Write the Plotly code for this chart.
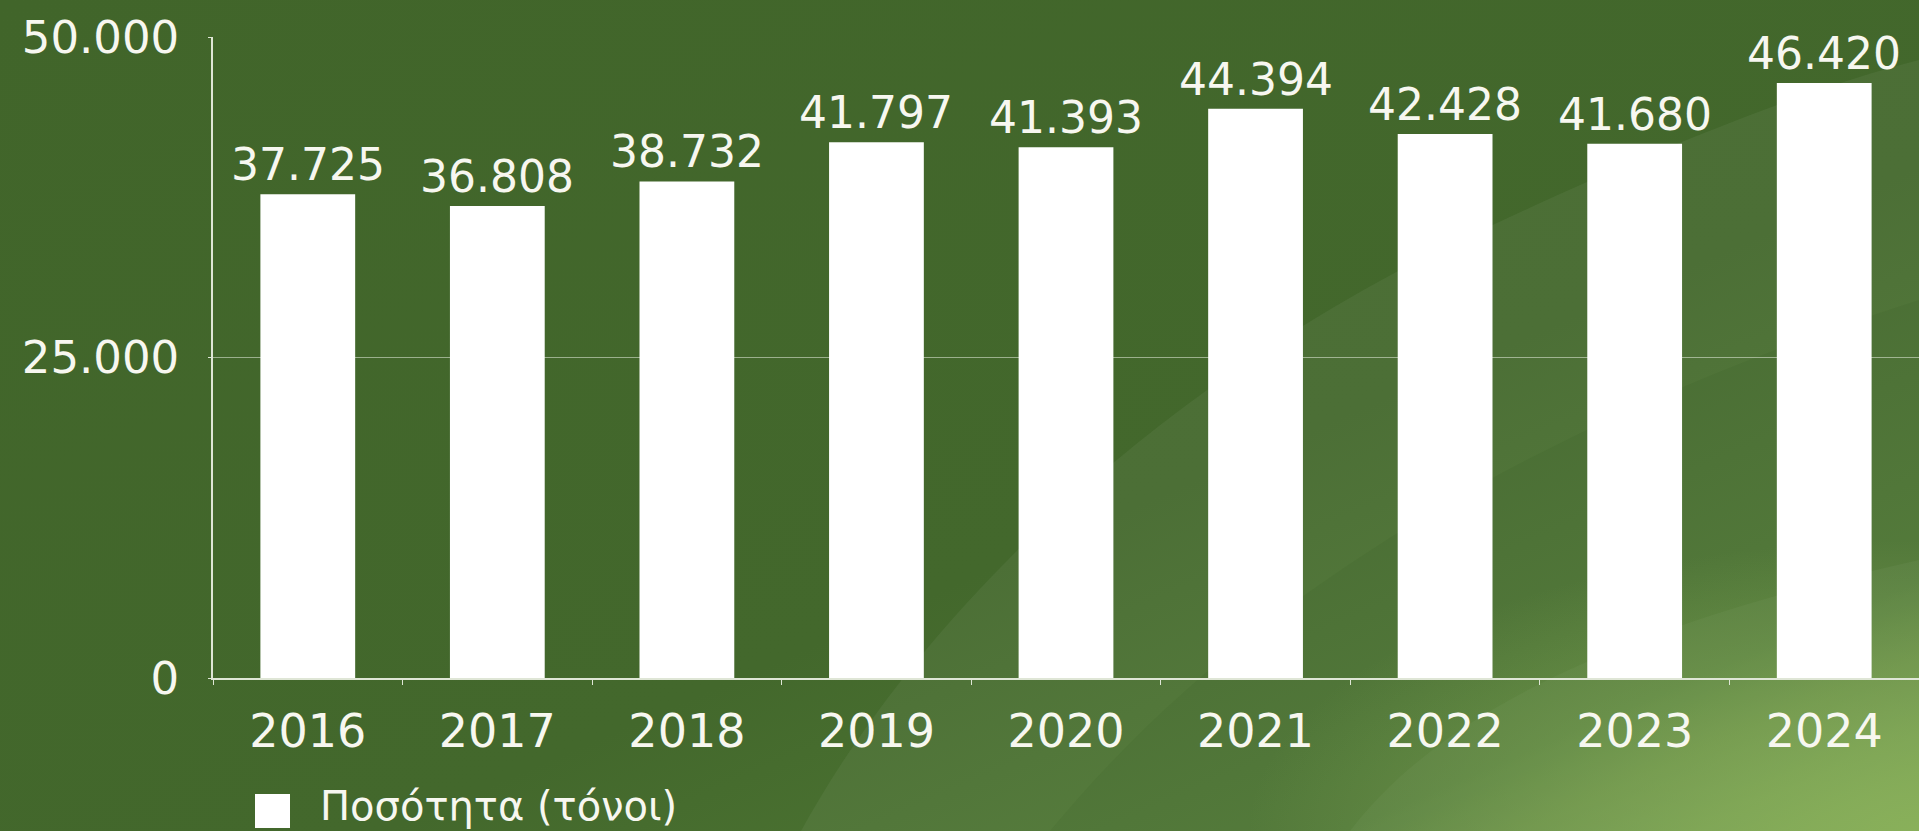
import base64
import plotly.graph_objects as go

years = ["2016", "2017", "2018", "2019", "2020", "2021", "2022", "2023", "2024"]
quantity = [37725, 36808, 38732, 41797, 41393, 44394, 42428, 41680, 46420]
series_name = "Ποσότητα (τόνοι)"
y_ticks = [0, 25000, 50000]

W, H = 1919, 831
ML, MR, MT, MB = 213, 0, 37, 153
PW, PH = W - ML - MR, H - MT - MB

FONT = "DejaVu Sans"
TXT = "#f7f7f0"

svg = f'''<svg xmlns="http://www.w3.org/2000/svg" width="{W}" height="{H}" viewBox="0 0 {W} {H}" preserveAspectRatio="none">
<defs>
<linearGradient id="g" x1="0" y1="0" x2="1" y2="1">
<stop offset="0" stop-color="#41652a"/>
<stop offset="0.6" stop-color="#43682c"/>
<stop offset="0.85" stop-color="#4f7834"/>
<stop offset="1" stop-color="#7ea552"/>
</linearGradient>
<radialGradient id="r" cx="1" cy="1" r="0.35">
<stop offset="0" stop-color="#8ab25a" stop-opacity="0.85"/>
<stop offset="1" stop-color="#8ab25a" stop-opacity="0"/>
</radialGradient>
</defs>
<rect width="{W}" height="{H}" fill="url(#g)"/>
<path d="M801,831 C900,650 1100,430 1400,270 C1600,170 1800,90 1919,60 L1919,831 Z" fill="#ffffff" fill-opacity="0.05"/>
<path d="M1050,831 C1200,650 1450,450 1919,300 L1919,831 Z" fill="#2c5015" fill-opacity="0.08"/>
<path d="M1350,831 C1450,700 1650,620 1919,560 L1919,831 Z" fill="#ffffff" fill-opacity="0.04"/>
<rect width="{W}" height="{H}" fill="url(#r)"/>
</svg>'''
svg_uri = "data:image/svg+xml;base64," + base64.b64encode(svg.encode()).decode()

fig = go.Figure()
fig.add_trace(go.Bar(
    x=years, y=quantity, name=series_name,
    marker=dict(color="#ffffff", line=dict(width=0)),
    width=0.5, showlegend=False, hoverinfo="skip",
))

for i, v in enumerate(quantity):
    fig.add_annotation(
        x=i, y=v, xref="x", yref="y",
        text=f"{v:,}".replace(",", "."),
        showarrow=False, yanchor="bottom", yshift=2,
        font=dict(family=FONT, size=44, color=TXT),
    )

# legend drawn as a square + label
lx0 = (255 - ML) / PW
lx1 = (290 - ML) / PW
ly0 = -(828 - (H - MB)) / PH
ly1 = -(794 - (H - MB)) / PH
fig.add_shape(type="rect", xref="paper", yref="paper",
              x0=lx0, x1=lx1, y0=ly0, y1=ly1,
              fillcolor="#ffffff", line=dict(width=0))
fig.add_annotation(
    x=(318 - ML) / PW, y=(ly0 + ly1) / 2, xref="paper", yref="paper",
    text=series_name, showarrow=False, xanchor="left", yanchor="middle",
    yshift=5,
    font=dict(family=FONT, size=40, color=TXT),
)

fig.add_layout_image(dict(
    source=svg_uri, xref="paper", yref="paper",
    x=-ML / PW, y=1 + MT / PH, sizex=W / PW, sizey=H / PH,
    xanchor="left", yanchor="top", sizing="stretch", layer="below",
))

fig.update_layout(
    width=W, height=H,
    margin=dict(l=ML, r=MR, t=MT, b=MB, pad=0),
    paper_bgcolor="#43682c", plot_bgcolor="rgba(0,0,0,0)",
    separators=",.",
    font=dict(family=FONT, color=TXT),
)
fig.update_xaxes(
    type="category", range=[-0.5, len(years) - 0.5],
    showline=True, linecolor="#dfe6d6", linewidth=1.5,
    ticks="outside", tickson="boundaries", ticklen=5, tickcolor="#dfe6d6",
    tickfont=dict(family=FONT, size=46, color=TXT), tickangle=0,
    ticklabelstandoff=12, showgrid=False,
)
fig.update_yaxes(
    range=[0, 50000], tickvals=y_ticks, tickformat=",d",
    showline=True, linecolor="#dfe6d6", linewidth=1.5,
    ticks="outside", ticklen=3, tickcolor="#dfe6d6",
    showgrid=True, gridcolor="rgba(230,236,222,0.55)", gridwidth=1,
    zeroline=False,
    tickfont=dict(family=FONT, size=45, color=TXT),
    ticklabelstandoff=20,
)

fig.write_html(
    "out.html",
    config={"displayModeBar": False},
    post_script="document.body.style.margin='0';document.body.style.overflow='hidden';",
)
